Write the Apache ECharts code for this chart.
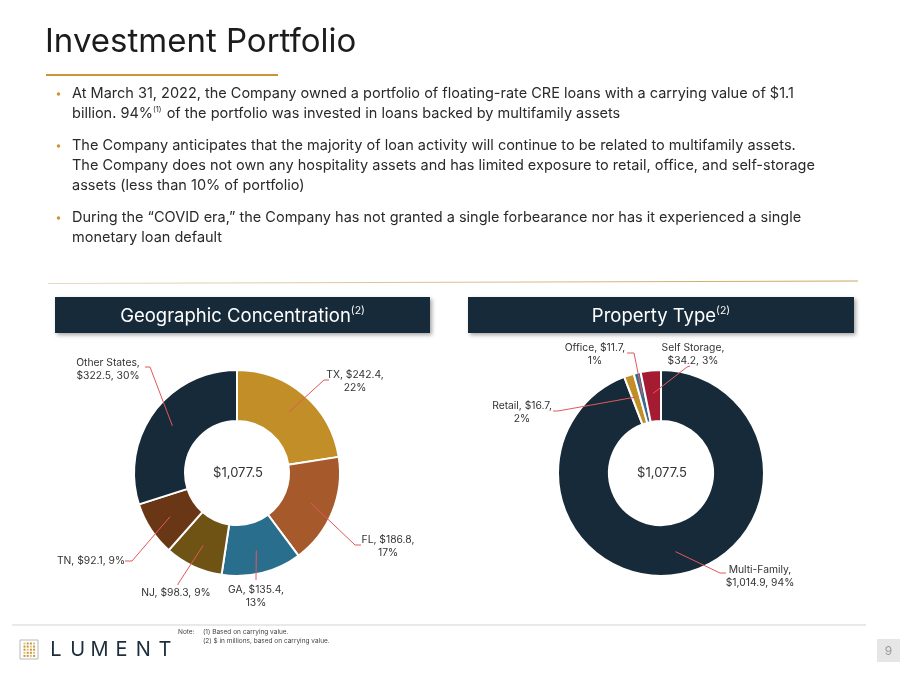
<!DOCTYPE html>
<html><head><meta charset="utf-8">
<script src="https://cdn.jsdelivr.net/npm/echarts@6/dist/echarts.min.js"></script>
<style>html,body{margin:0;padding:0;background:#fff}#c{width:900px;height:675px}</style>
</head><body><div id="c"></div>
<script>
// ---------- data ----------
const geoNames = ['TX', 'FL', 'GA', 'NJ', 'TN', 'Other States'];
const geoValues = [242.4, 186.8, 135.4, 98.3, 92.1, 322.5];
const geoBreak = ['pct', 'pct', 'pct', 'none', 'none', 'name'];
const propNames = ['Multi-Family', 'Retail', 'Office', 'Self Storage'];
const propValues = [1014.9, 16.7, 11.7, 34.2];
const propBreak = ['name', 'pct', 'pct', 'name'];
const titleText = 'Investment Portfolio';
const bulletLines = [
  ['At March 31, 2022, the Company owned a portfolio of floating-rate CRE loans with a carrying value of $1.1',
   '{t|billion. 94%}{s|(1)}{t| of the portfolio was invested in loans backed by multifamily assets}'],
  ['The Company anticipates that the majority of loan activity will continue to be related to multifamily assets.',
   'The Company does not own any hospitality assets and has limited exposure to retail, office, and self-storage',
   'assets (less than 10% of portfolio)'],
  ['During the \u201cCOVID era,\u201d the Company has not granted a single forbearance nor has it experienced a single',
   'monetary loan default']
];
const notes = ['(1) Based on carrying value.', '(2) $ in millions, based on carrying value.'];

// ---------- styles / layout ----------
const FONT = 'Inter, "Open Sans", sans-serif';
const NAVY = '#172a3a';
const geoColors = ['#c28e27', '#a65a2b', '#2a6e8e', '#6e5314', '#693716', NAVY];
const propColors = [NAVY, '#c28e27', '#3b6c8c', '#a51c32'];
const LEADER = '#e2585c';
const geoCenter = [237, 473], propCenter = [661, 473];
const R_OUT = 103, R_IN = 52, R_LINE = 80;

const geoLabelAt = {
  'TX': { x: 355, y: 381, line: [[324, 380], [329, 380]] },
  'FL': { x: 388, y: 546, line: [[355, 545], [361, 545]] },
  'GA': { x: 256, y: 596, line: [[256, 578], [256, 580]] },
  'NJ': { x: 176, y: 593, line: [[178, 584], [178, 585]] },
  'TN': { x: 91, y: 561, line: [[132, 561], [125, 561]] },
  'Other States': { x: 108, y: 369, line: [[150, 367], [145, 367]] }
};
const propLabelAt = {
  'Multi-Family': { x: 760, y: 576, line: [[720, 573], [726, 573]] },
  'Retail': { x: 522, y: 412, line: [[558, 411], [553, 411]] },
  'Office': { x: 595, y: 354, line: [[634, 353], [627, 353]] },
  'Self Storage': { x: 693, y: 354, line: [[687, 367], [690, 366]] }
};

const fmtMoney = v => '$' + v.toLocaleString('en-US', { minimumFractionDigits: 1, maximumFractionDigits: 1 });
const sum = a => a.reduce((s, v) => s + v, 0);

function makeFormatter(values, breaks) {
  const total = sum(values);
  return p => {
    const i = p.dataIndex, pct = Math.round(values[i] / total * 100) + '%', m = fmtMoney(p.value);
    if (breaks[i] === 'pct') return p.name + ', ' + m + ',\n' + pct;
    if (breaks[i] === 'name') return p.name + ',\n' + m + ', ' + pct;
    return p.name + ', ' + m + ', ' + pct;
  };
}
function midAngle(values, i) {
  let before = 0;
  for (let k = 0; k < i; k++) before += values[k];
  return (before + values[i] / 2) / sum(values) * Math.PI * 2;
}
function makeLayout(names, table) {
  return params => {
    const t = table[names[params.dataIndex]];
    return { x: t.x, y: t.y, align: 'center', verticalAlign: 'middle' };
  };
}
function pieSeries(names, values, colors, breaks, center, table) {
  return {
    type: 'pie', center: center, radius: [R_IN, R_OUT], startAngle: 90, clockwise: true,
    avoidLabelOverlap: false, animation: false, silent: true,
    itemStyle: { borderColor: '#fff', borderWidth: 2 },
    label: { show: true, position: 'outside', formatter: makeFormatter(values, breaks),
      fontFamily: FONT, fontSize: 10.3, color: '#333', lineHeight: 13, align: 'center' },
    labelLine: { show: false },
    labelLayout: makeLayout(names, table),
    data: names.map((n, i) => ({ name: n, value: values[i], itemStyle: { color: colors[i] } }))
  };
}

// ---------- graphics ----------
const g = [];
g.push({ type: 'text', x: 45, y: 42, style: { text: titleText, font: '400 33px ' + FONT, fill: '#1c1c1c', textVerticalAlign: 'middle' } });
g.push({ type: 'rect', shape: { x: 46, y: 74, width: 232, height: 2 }, style: { fill: '#c9963a' } });
const lineYs = [[94, 114], [146, 166, 186], [218, 238]];
bulletLines.forEach((lines, bi) => {
  g.push({ type: 'circle', shape: { cx: 58.5, cy: lineYs[bi][0], r: 1.8 }, style: { fill: '#c9963a' } });
  lines.forEach((ln, li) => {
    g.push({ type: 'text', x: 72, y: lineYs[bi][li], style: {
      text: ln, font: '400 14.5px ' + FONT, fill: '#2a2a2a', textVerticalAlign: 'middle',
      rich: { t: { fontFamily: FONT, fontSize: 14.5, fill: '#2a2a2a', lineHeight: 18, verticalAlign: 'middle' },
              s: { fontFamily: FONT, fontSize: 7.5, fill: '#2a2a2a', lineHeight: 18, verticalAlign: 'top', padding: [1, 1, 0, 0] } } } });
  });
});
g.push({ type: 'line', shape: { x1: 48, y1: 283.5, x2: 858, y2: 281 },
  style: { stroke: { type: 'linear', x: 0, y: 0, x2: 1, y2: 0, colorStops: [{ offset: 0, color: '#e6dcc4' }, { offset: 1, color: '#c9a45e' }] }, lineWidth: 1 } });

function headerBox(x, w, label) {
  g.push({ type: 'rect', shape: { x: x, y: 297, width: w, height: 36 },
    style: { fill: NAVY, shadowBlur: 4, shadowColor: 'rgba(0,0,0,0.35)', shadowOffsetX: 2, shadowOffsetY: 2 } });
  g.push({ type: 'text', x: x + w / 2, y: 316, style: {
    text: '{m|' + label + '}{s|(2)}', textAlign: 'center', textVerticalAlign: 'middle',
    rich: { m: { fontFamily: FONT, fontSize: 18.5, fill: '#fff', lineHeight: 22, verticalAlign: 'middle' },
            s: { fontFamily: FONT, fontSize: 10.5, fill: '#fff', lineHeight: 22, verticalAlign: 'top' } } } });
}
headerBox(55, 375, 'Geographic Concentration');
headerBox(468, 386, 'Property Type');

// leader lines (start inside each slice at its mid-angle)
function leaders(names, values, center, table) {
  names.forEach((n, i) => {
    const a = midAngle(values, i);
    const start = [center[0] + R_LINE * Math.sin(a), center[1] - R_LINE * Math.cos(a)];
    g.push({ type: 'polyline', z: 100, silent: true, shape: { points: [start].concat(table[n].line) },
      style: { stroke: LEADER, lineWidth: 1, fill: null } });
  });
}
leaders(geoNames, geoValues, geoCenter, geoLabelAt);
leaders(propNames, propValues, propCenter, propLabelAt);

[geoCenter, propCenter].forEach((c, k) => {
  const vals = k === 0 ? geoValues : propValues;
  g.push({ type: 'text', x: c[0] + 1, y: c[1], style: { text: fmtMoney(sum(vals)), font: '400 13px ' + FONT,
    fill: '#333', textAlign: 'center', textVerticalAlign: 'middle' } });
});

// footer
g.push({ type: 'line', shape: { x1: 12, y1: 625, x2: 866, y2: 625 }, style: { stroke: '#e2e2e2', lineWidth: 1.5 } });
g.push({ type: 'rect', shape: { x: 20, y: 640, width: 18, height: 19 }, style: { fill: '#fff', stroke: '#b8b8b8', lineWidth: 1 } });
for (let r = 0; r < 5; r++) for (let c = 0; c < 4; c++) {
  g.push({ type: 'rect', shape: { x: 23.5 + c * 3.2, y: 642.5 + r * 3.1, width: 2, height: 2 },
    style: { fill: (r + c) % 3 === 0 ? '#e2c27a' : '#c9963a' } });
}
['L', 'U', 'M', 'E', 'N', 'T'].forEach((ch, i) => {
  g.push({ type: 'text', x: 56 + i * 21.8, y: 650, style: { text: ch, font: '400 20px ' + FONT, fill: '#1e2d3b',
    textAlign: 'center', textVerticalAlign: 'middle' } });
});
g.push({ type: 'text', x: 178, y: 632, style: { text: 'Note:', font: '400 6.5px ' + FONT, fill: '#444', textVerticalAlign: 'middle' } });
notes.forEach((n, i) => g.push({ type: 'text', x: 203, y: 632 + i * 9.5, style: { text: n, font: '400 6.5px ' + FONT, fill: '#444', textVerticalAlign: 'middle' } }));
g.push({ type: 'rect', shape: { x: 877, y: 639, width: 23, height: 23 }, style: { fill: '#e6e6e6' } });
g.push({ type: 'text', x: 888.5, y: 651, style: { text: '9', font: '400 12px ' + FONT, fill: '#9a9a9a', textAlign: 'center', textVerticalAlign: 'middle' } });

const chart = echarts.init(document.getElementById('c'), null, { renderer: 'canvas' });
chart.setOption({
  backgroundColor: '#fff',
  animation: false,
  graphic: { elements: g },
  series: [
    pieSeries(geoNames, geoValues, geoColors, geoBreak, geoCenter, geoLabelAt),
    pieSeries(propNames, propValues, propColors, propBreak, propCenter, propLabelAt)
  ]
});
</script></body></html>
